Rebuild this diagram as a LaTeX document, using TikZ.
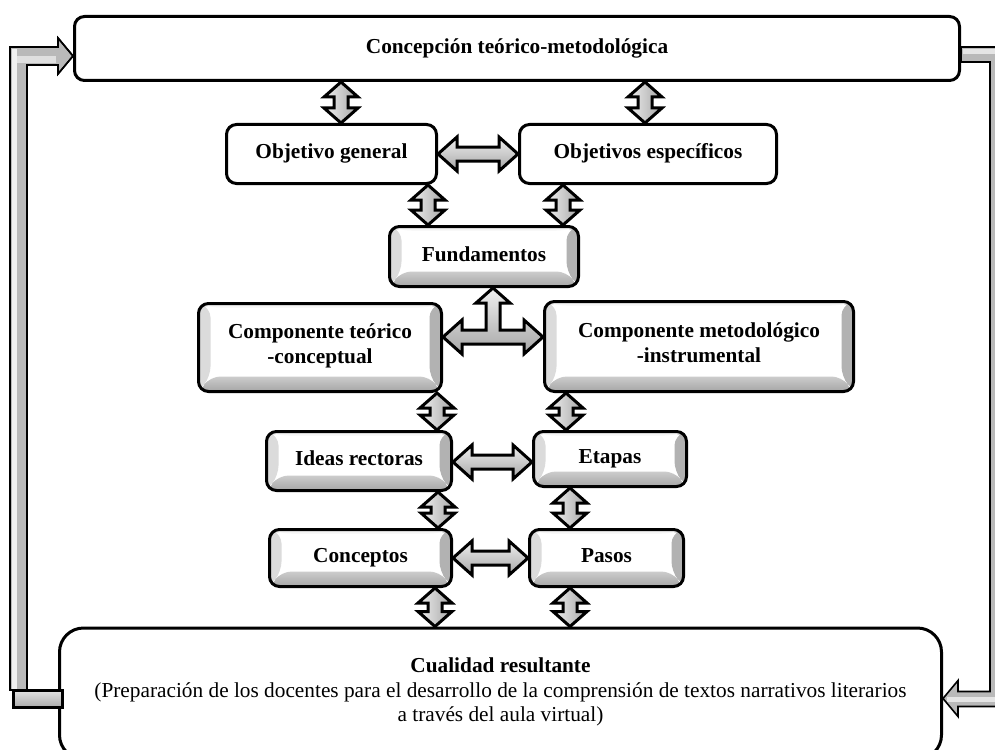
\documentclass[tikz,border=0pt]{standalone}
\usepackage{fontspec}
\setmainfont{Liberation Serif}
\usetikzlibrary{calc}

\tikzset{
  lbl/.style={font=\fontsize{21.3}{24.5}\selectfont\bfseries, align=center},
  plainbox/.style={lbl, draw, line width=3pt, rounded corners=10pt, fill=white, inner sep=0pt,
    execute at begin node=\strut},
  bevelbox/.style={plainbox, path picture={
      \def\ppbb{path picture bounding box}
      \fill[gray!28] (\ppbb.south west) -- (\ppbb.north west)
        -- ([shift={(12pt,-4pt)}]\ppbb.north west) -- ([shift={(12pt,15pt)}]\ppbb.south west) -- cycle;
      \fill[gray!8] (\ppbb.north west) -- (\ppbb.north east)
        -- ([shift={(-12pt,-4pt)}]\ppbb.north east) -- ([shift={(12pt,-4pt)}]\ppbb.north west) -- cycle;
      \fill[gray!60] (\ppbb.north east) -- (\ppbb.south east)
        -- ([shift={(-12pt,15pt)}]\ppbb.south east) -- ([shift={(-12pt,-4pt)}]\ppbb.north east) -- cycle;
      \shade[top color=gray!40, bottom color=gray!70] (\ppbb.south west) -- (\ppbb.south east)
        -- ([shift={(-12pt,15pt)}]\ppbb.south east) -- ([shift={(12pt,15pt)}]\ppbb.south west) -- cycle;
    }},
  blkv/.style={draw, line width=3pt, shade, left color=gray!12, right color=gray!70},
  blkh/.style={draw, line width=3pt, shade, top color=gray!12, bottom color=gray!70},
  loopbar/.style={draw, line width=1.6pt, fill=gray!55},
}

% vertical two-headed block arrow: #1 upper node anchor, #2 lower node anchor, #3 x shift
\newcommand\vdbl[3]{%
  \path[blkv] let \p1=(#1), \p2=($(#2)+(#3pt,0pt)$) in
    (\x2,\y1) -- (\x2+17pt,\y1-15pt) -- (\x2+7pt,\y1-15pt) -- (\x2+7pt,\y2+15pt)
    -- (\x2+17pt,\y2+15pt) -- (\x2,\y2) -- (\x2-17pt,\y2+15pt) -- (\x2-7pt,\y2+15pt)
    -- (\x2-7pt,\y1-15pt) -- (\x2-17pt,\y1-15pt) -- cycle;}

% horizontal two-headed block arrow: #1 left node anchor, #2 right node anchor, #3 y shift
\newcommand\hdbl[3]{%
  \path[blkh] let \p1=($(#1)+(0pt,#3pt)$), \p2=(#2) in
    (\x1,\y1) -- (\x1+19pt,\y1+17pt) -- (\x1+19pt,\y1+7pt) -- (\x2-19pt,\y1+7pt)
    -- (\x2-19pt,\y1+17pt) -- (\x2,\y1) -- (\x2-19pt,\y1-17pt) -- (\x2-19pt,\y1-7pt)
    -- (\x1+19pt,\y1-7pt) -- (\x1+19pt,\y1-17pt) -- cycle;}

\begin{document}
\begin{tikzpicture}[x=1pt,y=-1pt]
\useasboundingbox (0,0) rectangle (995,749);
\clip (0,0) rectangle (995,749);

% boxes
\node[plainbox, minimum width=885pt, minimum height=64pt] (top) at (517,48.5) {Concepción teórico-metodológica};
\node[plainbox, minimum width=210pt, minimum height=59pt] (og) at (331.5,154) {Objetivo general};
\node[plainbox, minimum width=257pt, minimum height=59pt] (oe) at (648,154) {Objetivos específicos};
\node[bevelbox, minimum width=189pt, minimum height=60pt] (fund) at (484,256.5) {Fundamentos};
\node[bevelbox, minimum width=243pt, minimum height=88pt] (ctc) at (320,347.5) {Componente teórico\\-conceptual};
\node[bevelbox, minimum width=309pt, minimum height=90pt] (cmi) at (699,346.5) {Componente metodológico\\-instrumental};
\node[bevelbox, minimum width=185pt, minimum height=59pt] (ir) at (359,461) {Ideas rectoras};
\node[bevelbox, minimum width=153pt, minimum height=55pt] (et) at (610,459) {Etapas};
\node[bevelbox, minimum width=182pt, minimum height=57pt] (co) at (360.5,558) {Conceptos};
\node[bevelbox, minimum width=154pt, minimum height=57pt] (pa) at (606.5,558) {Pasos};
\node[plainbox, rounded corners=24pt, minimum width=882pt, minimum height=131pt,
      font=\fontsize{21.3}{24.5}\selectfont] (cr) at (500.5,693.5)
  {\textbf{Cualidad resultante}\\(Preparación de los docentes para el desarrollo de la comprensión de textos narrativos literarios\\a través del aula virtual)};

% links between boxes
\vdbl{top.south}{og.north}{9.5}
\vdbl{top.south}{oe.north}{-3}
\hdbl{og.east}{oe.west}{0}
\vdbl{og.south}{fund.north}{-56}
\vdbl{oe.south}{fund.north}{79}

% T-shaped arrow joining both components with Fundamentos
\path[blkh] let \p1=($(ctc.east)+(0pt,10.5pt)$), \p2=(cmi.west), \p3=($(fund.south)+(9pt,0pt)$) in
  (\x1,\y1) -- (\x1+19pt,\y1+17pt) -- (\x1+19pt,\y1+7pt) -- (\x3-7pt,\y1+7pt)
  -- (\x3-7pt,\y3-15pt) -- (\x3-17pt,\y3-15pt) -- (\x3,\y3) -- (\x3+17pt,\y3-15pt)
  -- (\x3+7pt,\y3-15pt) -- (\x3+7pt,\y1+7pt) -- (\x2-19pt,\y1+7pt) -- (\x2-19pt,\y1+17pt)
  -- (\x2,\y1) -- (\x2-19pt,\y1-17pt) -- (\x2-19pt,\y1-7pt) -- (\x1+19pt,\y1-7pt)
  -- (\x1+19pt,\y1-17pt) -- cycle;

\vdbl{ctc.south}{ir.north}{78}
\vdbl{cmi.south}{et.north}{-44}
\hdbl{ir.east}{et.west}{-1}
\vdbl{ir.south}{co.north}{77.5}
\vdbl{et.south}{pa.north}{-36.5}
\hdbl{co.east}{pa.west}{0}
\vdbl{co.south}{cr.north}{-65.5}
\vdbl{pa.south}{cr.north}{69.5}

% feedback bar on the left: from the result box up to the top box
\path[loopbar] let \p1=(top.west), \p2=(cr.west) in
  (\x2-48pt,\y2+3.5pt) -- (\x2-48pt,\y1+1.5pt) -- (\x1-15pt,\y1+1.5pt) -- (\x1-15pt,\y1+10.5pt)
  -- (\x1,\y1-7.5pt) -- (\x1-15pt,\y1-25.5pt) -- (\x1-15pt,\y1-16.5pt) -- (\x2-31pt,\y1-16.5pt)
  -- (\x2-31pt,\y2+3.5pt) -- cycle;
\fill[gray!12] let \p1=(top.west), \p2=(cr.west) in
  (\x2-46.5pt,\y2+3.5pt) rectangle (\x2-41pt,\y1-1pt);
\fill[gray!25] let \p1=(top.west), \p2=(cr.west) in
  (\x2-41pt,\y1-8pt) rectangle (\x1-17pt,\y1-14.5pt);
\path[draw, line width=1.6pt] let \p1=(top.west), \p2=(cr.west) in
  (\x2-48pt,\y2+3.5pt) -- (\x2-48pt,\y1+1.5pt) -- (\x1-15pt,\y1+1.5pt) -- (\x1-15pt,\y1+10.5pt)
  -- (\x1,\y1-7.5pt) -- (\x1-15pt,\y1-25.5pt) -- (\x1-15pt,\y1-16.5pt) -- (\x2-31pt,\y1-16.5pt)
  -- (\x2-31pt,\y2+3.5pt);
\path[draw, line width=3pt, shade, top color=gray!20, bottom color=gray!65] let \p2=(cr.west) in
  (\x2-45pt,\y2+3.5pt) rectangle (\x2+4pt,\y2-13.5pt);

% feedback bar on the right: from the top box down into the result box
\path[loopbar] let \p1=(top.east), \p2=(cr.east) in
  (\x1,\y1+1.5pt) -- (\x1+46pt,\y1+1.5pt) -- (\x1+46pt,\y2-13pt) -- (\x2+15pt,\y2-13pt)
  -- (\x2+15pt,\y2-23pt) -- (\x2,\y2-5pt) -- (\x2+15pt,\y2+13pt) -- (\x2+15pt,\y2+2pt)
  -- (\x1+29pt,\y2+2pt) -- (\x1+29pt,\y1-13.5pt) -- (\x1,\y1-13.5pt) -- cycle;
\fill[gray!20] let \p1=(top.east), \p2=(cr.east) in
  (\x1+2pt,\y1-1pt) rectangle (\x1+44pt,\y1-6pt);
\fill[gray!20] let \p1=(top.east), \p2=(cr.east) in
  (\x2+4pt,\y2-3pt) rectangle (\x1+44pt,\y2-8pt);
\end{tikzpicture}
\end{document}
